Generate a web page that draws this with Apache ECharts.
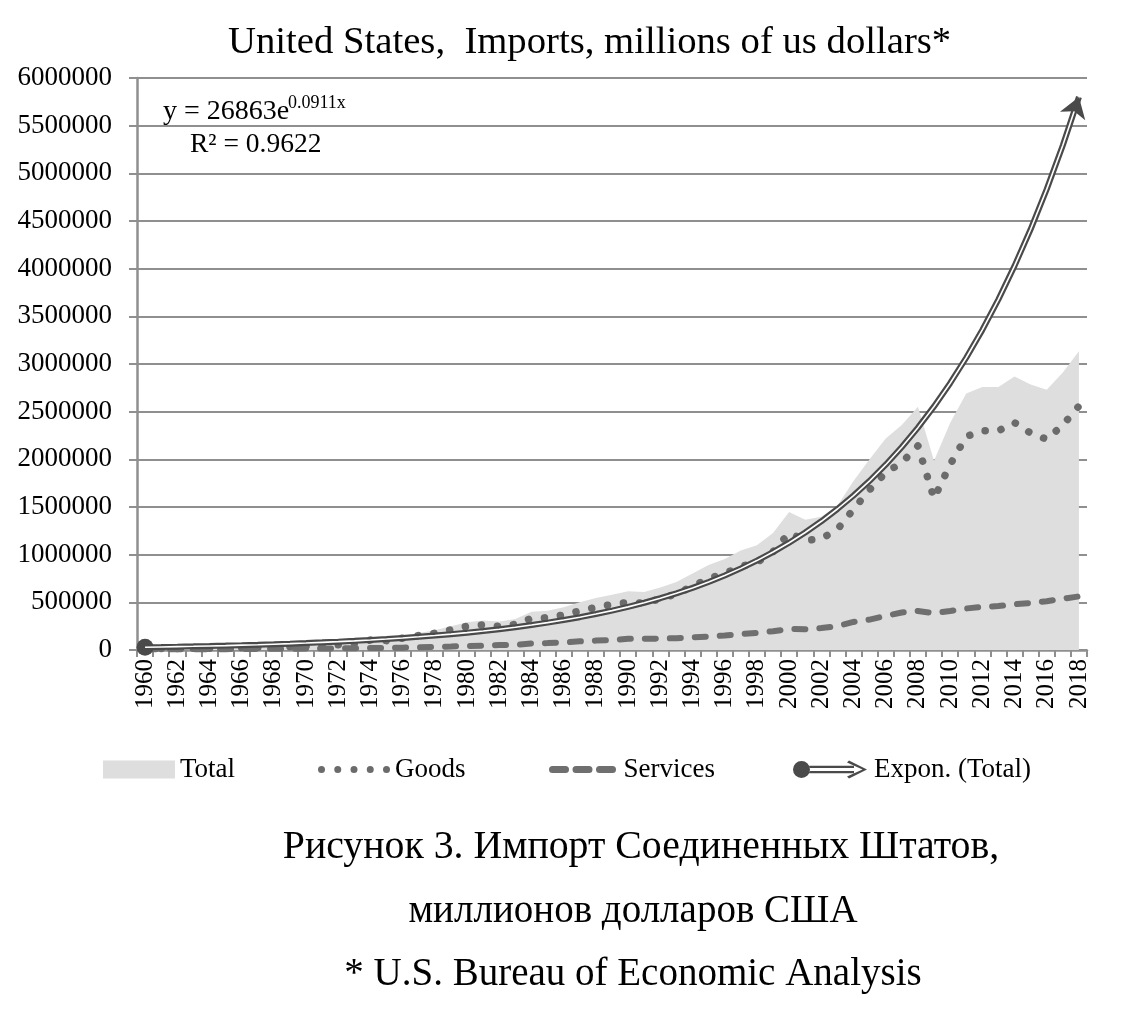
<!DOCTYPE html>
<html>
<head>
<meta charset="utf-8">
<script src="https://cdn.jsdelivr.net/npm/echarts@6/dist/echarts.min.js"></script>
<style>
html,body{margin:0;padding:0;background:#fff;}
#chart{width:1125px;height:1012px;}
</style>
</head>
<body>
<div id="chart"></div>
<script>
// ---- data (millions of US dollars) ----
const YEARS = [];
for (let y = 1960; y <= 2018; y++) YEARS.push(String(y));

const TOTAL = [22432, 22208, 24352, 25410, 27319, 30621, 35987, 38729, 45293, 49129,
  54386, 60979, 72665, 89342, 125190, 120181, 148798, 179547, 208191, 248696,
  291241, 310570, 299391, 323874, 400166, 410950, 448572, 500552, 545715, 580144,
  616097, 609479, 656094, 713174, 801747, 890771, 955667, 1042726, 1099314, 1228485,
  1447837, 1367165, 1397660, 1514307, 1771433, 2000267, 2219358, 2358922, 2550339, 1985000,
  2380000, 2690000, 2760000, 2760000, 2870000, 2785000, 2730000, 2910000, 3135000];

const GOODS = [14758, 14537, 16260, 17048, 18700, 21510, 25493, 26866, 32991, 35807,
  39866, 45579, 55797, 70499, 103811, 98185, 124228, 151907, 176002, 212007,
  249750, 265067, 247642, 268901, 332418, 338088, 368425, 409765, 447189, 477665,
  498438, 491020, 536528, 589394, 668690, 749374, 803113, 876794, 918637, 1031784,
  1226684, 1148609, 1167377, 1264307, 1477094, 1681780, 1861380, 1965598, 2141287, 1590000,
  1945000, 2240000, 2300000, 2300000, 2385000, 2275000, 2210000, 2360000, 2560000];

const SERVICES = [7674, 7671, 8092, 8362, 8619, 9111, 10494, 11863, 12302, 13322,
  14520, 15400, 16868, 18843, 21379, 21996, 24570, 27640, 32189, 36689,
  41491, 45503, 51749, 54973, 67748, 72862, 80147, 90787, 98526, 102479,
  117659, 118459, 119566, 123780, 133057, 141397, 152554, 165932, 180677, 196701,
  221153, 218556, 230283, 250000, 294339, 318487, 357978, 393324, 409052, 386801,
  409313, 435761, 452013, 461125, 480761, 491966, 511600, 538100, 562100];

// exponential trendline as drawn on the chart: y = 26863e^(0.0911x), x = 1..59
const TREND = [29425, 32232, 35306, 38673, 42362, 46402, 50828, 55676, 60986, 66803,
  73175, 80154, 87799, 96173, 105346, 115394, 126400, 138456, 151662, 166127,
  181972, 199329, 218341, 239166, 261977, 286965, 314335, 344316, 377157, 413130,
  452535, 495697, 542976, 594765, 651493, 713632, 781698, 856256, 937926, 1027385,
  1125376, 1232714, 1350289, 1479078, 1620151, 1774680, 1943947, 2129359, 2332455, 2554923,
  2798609, 3065539, 3357928, 3678206, 4029031, 4413317, 4834257, 5295344, 5800411];

const Y_MIN = 0, Y_MAX = 6000000, Y_STEP = 500000;

const TITLE = 'United States,  Imports, millions of us dollars*';
const EQ_MAIN = 'y = 26863e';
const EQ_EXP = '0.0911x';
const EQ_R2 = 'R² = 0.9622';
const CAPTION = ['Рисунок 3. Импорт Соединенных Штатов,', 'миллионов долларов США', '* U.S. Bureau of Economic Analysis'];

// ---- styles ----
const FONT = '"Liberation Serif", "Times New Roman", serif';
const GRID_C = '#8f8f8f';
const AREA_C = '#dedede';
const GOODS_C = '#6b6b6b';
const SERV_C = '#6f6f6f';
const TREND_C = '#4a4a4a';

const trendData = TREND.map((v, i) => i === 0 ? {value: v, symbol: 'circle', symbolSize: 17} : v);

const chart = echarts.init(document.getElementById('chart'), null, {renderer: 'canvas'});

function txt(x, y, text, size, align) {
  return {type: 'text', x: x, y: y, silent: true, z: 100,
    style: {text: text, font: size + 'px ' + FONT, fill: '#000',
      align: align, textAlign: align, verticalAlign: 'middle', textVerticalAlign: 'middle'}};
}

const legendText = {fontFamily: FONT, fontSize: 27, color: '#000'};
const dotsIcon = 'path://M0,3.5a3.5,3.5 0 1,0 7,0a3.5,3.5 0 1,0 -7,0Z' +
  'M16.25,3.5a3.5,3.5 0 1,0 7,0a3.5,3.5 0 1,0 -7,0Z' +
  'M32.5,3.5a3.5,3.5 0 1,0 7,0a3.5,3.5 0 1,0 -7,0Z' +
  'M48.75,3.5a3.5,3.5 0 1,0 7,0a3.5,3.5 0 1,0 -7,0Z' +
  'M65,3.5a3.5,3.5 0 1,0 7,0a3.5,3.5 0 1,0 -7,0Z';
const dashIcon = 'path://M3.5,0H16.5A3.5,3.5 0 0,1 16.5,7H3.5A3.5,3.5 0 0,1 3.5,0Z' +
  'M27,0H40A3.5,3.5 0 0,1 40,7H27A3.5,3.5 0 0,1 27,0Z' +
  'M50.5,0H63.5A3.5,3.5 0 0,1 63.5,7H50.5A3.5,3.5 0 0,1 50.5,0Z';
const expIcon = 'path://M0,9a8.5,8.5 0 1,0 17,0a8.5,8.5 0 1,0 -17,0Z' +
  'M16.4,5.3H61V7.5H16.4Z M16.4,10.5H61V12.7H16.4Z' +
  'M56,0L74,9L56,18L54,16L69.5,9L54,2Z';

const option = {
  animation: false,
  backgroundColor: '#fff',
  grid: {left: 137, right: 38, top: 78, bottom: 362, containLabel: false, outerBoundsMode: 'none'},
  xAxis: {
    type: 'category', data: YEARS, boundaryGap: true,
    axisLine: {show: true, lineStyle: {color: GRID_C, width: 2.5}},
    axisTick: {show: true, interval: 0, length: 7, lineStyle: {color: GRID_C, width: 2}},
    axisLabel: {interval: 1, rotate: 90, margin: 9, fontFamily: FONT, fontSize: 25, color: '#000'},
    splitLine: {show: false}
  },
  yAxis: {
    type: 'value', min: Y_MIN, max: Y_MAX, interval: Y_STEP,
    axisLine: {show: true, lineStyle: {color: GRID_C, width: 2.5}},
    axisTick: {show: true, length: 8, lineStyle: {color: GRID_C, width: 2}},
    axisLabel: {margin: 25, fontFamily: FONT, fontSize: 27, color: '#000',
      formatter: function (v) { return String(v); }},
    splitLine: {show: true, lineStyle: {color: GRID_C, width: 2}}
  },
  legend: [
    {data: [{name: 'Total', icon: 'rect', itemStyle: {color: AREA_C, borderWidth: 0}}],
     left: 103, top: 756, padding: 0, itemWidth: 72, itemHeight: 18, selectedMode: false, textStyle: legendText},
    {data: [{name: 'Goods', icon: dotsIcon, itemStyle: {color: GOODS_C, borderWidth: 0}}],
     left: 318, top: 756, padding: 0, itemWidth: 72, itemHeight: 7, selectedMode: false, textStyle: legendText},
    {data: [{name: 'Services', icon: dashIcon, itemStyle: {color: SERV_C, borderWidth: 0}}],
     left: 549, top: 756, padding: 0, itemWidth: 72, itemHeight: 7, selectedMode: false, textStyle: legendText},
    {data: [{name: 'Expon. (Total)', icon: expIcon, itemStyle: {color: TREND_C, borderWidth: 0}}],
     left: 793, top: 756, padding: 0, itemWidth: 78, itemHeight: 18, selectedMode: false, textStyle: legendText}
  ],
  series: [
    {name: 'Total', type: 'line', data: TOTAL, symbol: 'none', silent: true, z: 1,
     itemStyle: {color: AREA_C}, lineStyle: {width: 0, color: AREA_C},
     areaStyle: {color: AREA_C, opacity: 1}},
    {name: 'Goods', type: 'line', data: GOODS, symbol: 'none', silent: true, z: 3,
     itemStyle: {color: GOODS_C},
     lineStyle: {color: GOODS_C, width: 7.5, type: [0.1, 16], cap: 'round'}},
    {name: 'Services', type: 'line', data: SERVICES, symbol: 'none', silent: true, z: 3,
     itemStyle: {color: SERV_C},
     lineStyle: {color: SERV_C, width: 6, type: [11, 14], cap: 'round'}},
    {name: 'Expon. (Total)', type: 'line', data: trendData, symbol: 'none', showSymbol: true, showAllSymbol: true,
     silent: true, z: 5, itemStyle: {color: TREND_C},
     lineStyle: {color: TREND_C, width: 6}},
    {name: 'trend-inner', type: 'line', data: TREND, symbol: 'none', silent: true, z: 6,
     lineStyle: {color: '#ffffff', width: 1.6}},
    {name: 'trend-arrow', type: 'lines', coordinateSystem: 'cartesian2d', silent: true, z: 7,
     symbol: ['none', 'arrow'], symbolSize: 20,
     lineStyle: {color: TREND_C, width: 0, opacity: 1},
     data: [{coords: [[TREND.length - 2, TREND[TREND.length - 2]], [TREND.length - 1, TREND[TREND.length - 1]]]}]}
  ],
  graphic: [
    txt(228, 43, TITLE, 38.7, 'left'),
    txt(163, 112, EQ_MAIN, 28, 'left'),
    txt(288, 103.5, EQ_EXP, 18, 'left'),
    txt(190, 144.5, EQ_R2, 27.5, 'left'),
    txt(641, 848, CAPTION[0], 39.8, 'center'),
    txt(633, 912, CAPTION[1], 39, 'center'),
    txt(633, 975, CAPTION[2], 39, 'center')
  ]
};
chart.setOption(option);
</script>
</body>
</html>
